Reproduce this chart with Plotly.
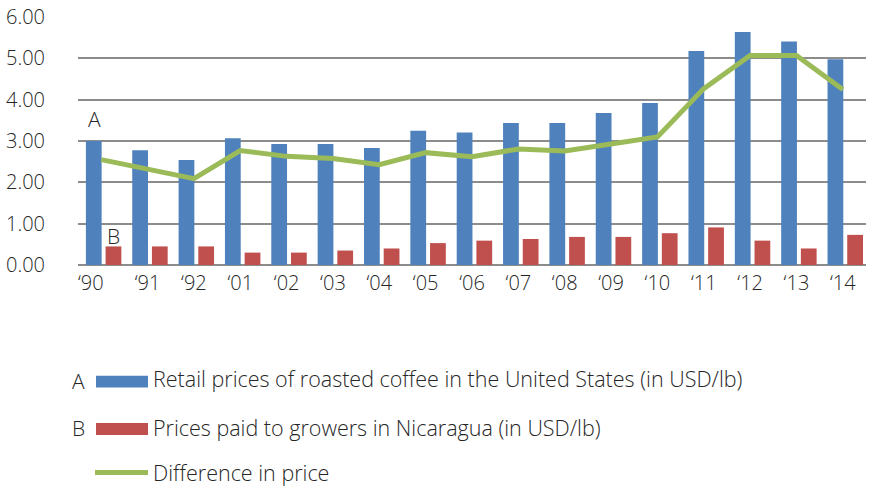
import plotly.graph_objects as go

years = ["\u201890", "\u201891", "\u201892", "\u201801", "\u201802", "\u201803", "\u201804", "\u201805",
         "\u201806", "\u201807", "\u201808", "\u201809", "\u201810", "\u201811", "\u201812", "\u201813", "\u201814"]
retail_us = [3.00, 2.78, 2.54, 3.07, 2.93, 2.93, 2.83, 3.25, 3.21, 3.44, 3.44, 3.68, 3.92, 5.18, 5.64, 5.41, 4.98]
growers_nic = [0.45, 0.45, 0.45, 0.30, 0.30, 0.35, 0.40, 0.53, 0.59, 0.63, 0.68, 0.68, 0.77, 0.91, 0.59, 0.40, 0.73]
difference = [2.55, 2.33, 2.09, 2.77, 2.63, 2.58, 2.43, 2.72, 2.62, 2.81, 2.76, 2.93, 3.10, 4.27, 5.07, 5.07, 4.25]
x_tick_labels = ["\u201890\u00a0\u00a0\u00a0\u00a0", "\u201891", "\u201892", "\u201801", "\u201802", "\u201803",
                 "\u201804", "\u201805", "\u201806", "\u201807", "\u201808", "\u201809", "\u201810", "\u201811",
                 "\u201812", "\u201813", "\u201814"]
y_ticks = [0, 1, 2, 3, 4, 5, 6]
y_tick_labels = ["0.00", "1.00", "2.00", "3.00", "4.00", "5.00", "6.00"]
legend_names = ["Retail prices of roasted coffee in the United States (in USD/lb)",
                "Prices paid to growers in Nicaragua (in USD/lb)",
                "Difference in price"]

BLUE = "#4F81BD"
RED = "#C0504D"
GREEN = "#9BBB59"
FONT = "Open Sans, Liberation Sans, Arial, sans-serif"
TXT = "#262626"
FW = 300
FS = 20

W, H = 869, 489
ML, MT = 78, 14
PW, PH = 788, 251
MR = W - ML - PW
MB = H - MT - PH


def px(x):
    return (x - ML) / PW


def py(y):
    return (H - MB - y) / PH


def fnt(size=FS):
    return dict(family=FONT, size=size, color=TXT, weight=FW)


fig = go.Figure()
fig.add_trace(go.Bar(x=years, y=retail_us, name=legend_names[0], marker=dict(color=BLUE, line_width=0),
                     offset=-0.33, width=0.34, showlegend=False))
fig.add_trace(go.Bar(x=years, y=growers_nic, name=legend_names[1], marker=dict(color=RED, line_width=0),
                     offset=0.095, width=0.34, showlegend=False))
fig.add_trace(go.Scatter(x=years, y=difference, name=legend_names[2], mode="lines",
                         line=dict(color=GREEN, width=5), showlegend=False))

shapes = []
annotations = []
rows = [(383, BLUE, "A", "bar", -3), (431, RED, "B", "bar", -2), (475, GREEN, "", "line", 0)]
for (yy, col, letter, kind, dy), name in zip(rows, legend_names):
    if kind == "bar":
        shapes.append(dict(type="rect", xref="paper", yref="paper", x0=px(96), x1=px(148),
                           y0=py(yy + 6), y1=py(yy - 6), fillcolor=col, line_width=0))
    else:
        shapes.append(dict(type="line", xref="paper", yref="paper", x0=px(95), x1=px(148),
                           y0=py(yy), y1=py(yy), line=dict(color=col, width=5)))
    annotations.append(dict(xref="paper", yref="paper", x=px(151), y=py(yy + dy), text=name, showarrow=False,
                            xanchor="left", yanchor="middle", font=fnt(21.5)))
    if letter:
        annotations.append(dict(xref="paper", yref="paper", x=px(78), y=py(yy - 1), text=letter, showarrow=False,
                                xanchor="center", yanchor="middle", font=fnt(21)))

annotations.append(dict(x=years[0], y=retail_us[0], text="A", showarrow=False, xanchor="center",
                        yanchor="bottom", xshift=-7, yshift=6, font=fnt(21)))
annotations.append(dict(x=years[0], y=growers_nic[0], text="B", showarrow=False, xanchor="center",
                        yanchor="bottom", xshift=12, yshift=-6, font=fnt(21)))

fig.update_layout(
    width=W, height=H,
    margin=dict(l=ML, r=MR, t=MT, b=MB),
    paper_bgcolor="white", plot_bgcolor="white",
    barmode="overlay",
    shapes=shapes, annotations=annotations,
    font=fnt(),
    xaxis=dict(type="category", showgrid=False, showline=False, zeroline=False,
               tickmode="array", tickvals=years, ticktext=x_tick_labels,
               ticks="", ticklabelstandoff=4, tickfont=fnt(), range=[-0.5, 16.5]),
    yaxis=dict(range=[0, 6.004], tickvals=y_ticks, ticktext=y_tick_labels, showgrid=True,
               gridcolor="#8C8C8C", gridwidth=1.5, zeroline=True, zerolinecolor="#8C8C8C", zerolinewidth=1.5,
               showline=False, ticks="outside", ticklen=28, tickcolor="rgba(0,0,0,0)",
               tickfont=fnt()),
)

fig.write_html("out.html", config={"displayModeBar": False},
               post_script="document.body.style.margin='0';document.body.style.overflow='hidden';")
